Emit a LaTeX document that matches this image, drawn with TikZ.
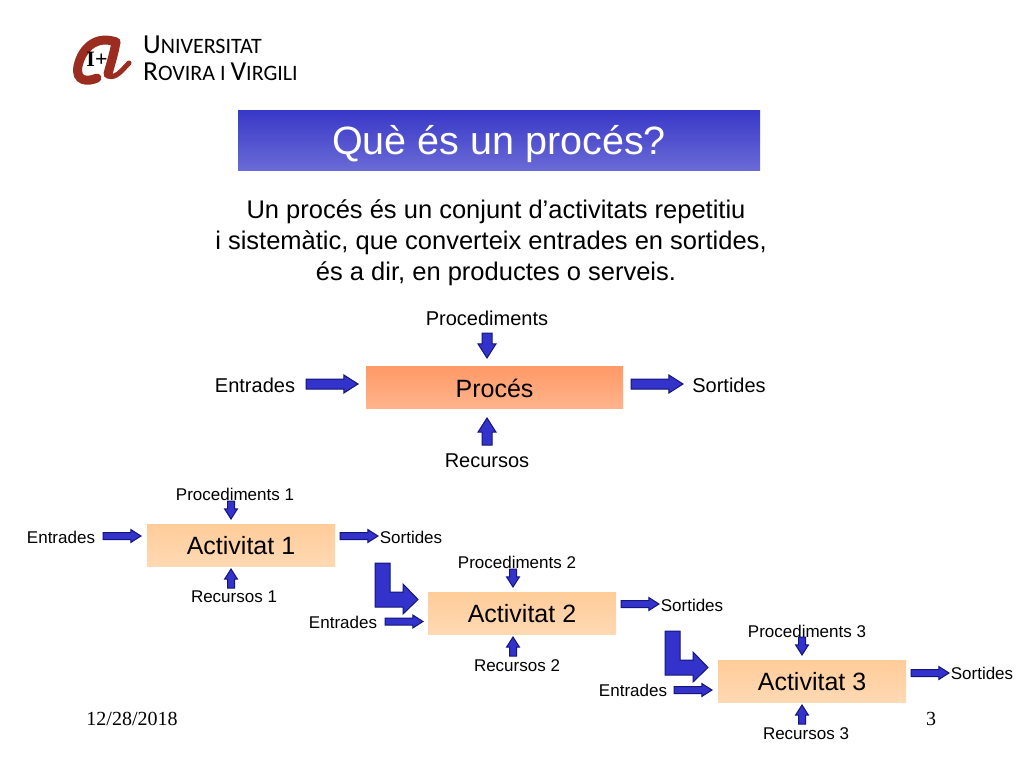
\documentclass[tikz,border=0pt]{standalone}
\usepackage{xcolor}
\usepackage{fontspec}
\usetikzlibrary{shapes.arrows}
\setmainfont{Liberation Sans}
\newfontfamily\datefont{Liberation Serif}
\newfontfamily\logofont{Carlito}
\definecolor{arrowfill}{HTML}{3333CC}
\definecolor{arrowline}{HTML}{14147A}
\definecolor{logored}{HTML}{9A2C20}
\definecolor{actbox_top}{HTML}{FFCC99}
\definecolor{actbox_bot}{HTML}{FFD9B3}
\definecolor{proc_top}{HTML}{FF9966}
\definecolor{proc_bot}{HTML}{FFB38C}
\definecolor{title_top}{HTML}{3838C8}
\definecolor{title_bot}{HTML}{6A6AD6}
\tikzset{
	blockarr/.style={single arrow, draw=arrowline, fill=arrowfill, line width=1pt, single arrow tip angle=65, single arrow head indent=0pt, outer sep=0pt, anchor=tail},
	bigarr/.style={blockarr, inner sep=4.5pt, single arrow head extend=4pt},
	smallarr/.style={blockarr, inner sep=3pt, single arrow head extend=3pt},
	actbox/.style={rectangle, minimum width=188pt, minimum height=42pt, inner sep=0pt, top color=actbox_top, bottom color=actbox_bot, text height=19pt, text depth=0pt, font=\fontsize{25}{25}\selectfont},
	biglabel/.style={font=\fontsize{20}{20}\selectfont},
	smalllabel/.style={font=\fontsize{17}{17}\selectfont},
}
\begin{document}
\begin{tikzpicture}[x=1pt, y=-1pt]
	\useasboundingbox (0,0) rectangle (1024,768);
	% Logo
	\draw[logored, line width=9pt, line cap=round] (116,42) .. controls (96,35) and (82,48) .. (78,66) .. controls (75,82) and (88,82) .. (97,78);
	\draw[logored, line width=9pt, line cap=round] (116,42) .. controls (114,54) and (110,66) .. (108,74);
	\draw[logored, line width=5pt, line cap=round] (108,76) .. controls (116,79) and (122,70) .. (129,63);
	\node[font=\datefont\bfseries\fontsize{22}{22}\selectfont] (logo_mark) at (97,59) {I+};
	\node[anchor=west, inner sep=0pt, font=\logofont\fontsize{27.5}{27.5}\selectfont] (logo_1) at (143,45) {U\fontsize{22}{22}\selectfont NIVERSITAT};
	\node[anchor=west, inner sep=0pt, font=\logofont\fontsize{27.5}{27.5}\selectfont] (logo_2) at (143,72) {R\fontsize{22}{22}\selectfont OVIRA I \fontsize{27.5}{27.5}\selectfont V\fontsize{22}{22}\selectfont IRGILI};
	% Title and text
	\node[rectangle, minimum width=522pt, minimum height=60pt, inner sep=0pt, top color=title_top, bottom color=title_bot, text=white, text height=28pt, text depth=0pt, font=\fontsize{39.5}{39.5}\selectfont] (title) at (499,140) {Què és un procés?};
	\node[align=center, inner sep=0pt, font=\fontsize{25.5}{31}\selectfont] (intro) at (496,243) {Un procés és un conjunt d’activitats repetitiu\\ i sistemàtic, que converteix entrades en sortides,\rule{10pt}{0pt}\\ és a dir, en productes o serveis.};
	% Main process
	\node[rectangle, minimum width=257pt, minimum height=42pt, inner sep=0pt, top color=proc_top, bottom color=proc_bot, text height=20pt, text depth=0pt, font=\fontsize{25}{25}\selectfont] (proc) at (494.5,387) {Procés};
	\node[biglabel] (proc_p) at (487,318) {Procediments};
	\node[biglabel] (proc_e) at (255,385) {Entrades};
	\node[biglabel] (proc_s) at (729,385) {Sortides};
	\node[biglabel] (proc_r) at (487,461) {Recursos};
	\node[bigarr, minimum height=52pt] (arr_e) at (306,384) {};
	\node[bigarr, minimum height=52pt] (arr_s) at (631,384) {};
	\node[bigarr, minimum height=25pt, rotate=-90] (arr_p) at (487,333) {};
	\node[bigarr, minimum height=27pt, rotate=90] (arr_r) at (487,445) {};
	% Activities
	\node[actbox] (act_1) at (241,545) {Activitat 1};
	\node[actbox] (act_2) at (522,613) {Activitat 2};
	\node[actbox] (act_3) at (812,681) {Activitat 3};
	\node[smalllabel] (p_1) at (235,494) {Procediments 1};
	\node[smalllabel] (e_1) at (61,537) {Entrades};
	\node[smalllabel] (s_1) at (411,537) {Sortides};
	\node[smalllabel] (r_1) at (234,597) {Recursos 1};
	\node[smalllabel] (p_2) at (517,562) {Procediments 2};
	\node[smalllabel] (e_2) at (343,622) {Entrades};
	\node[smalllabel] (s_2) at (692,605) {Sortides};
	\node[smalllabel] (r_2) at (517,666) {Recursos 2};
	\node[smalllabel] (p_3) at (807,631) {Procediments 3};
	\node[smalllabel] (e_3) at (633,690) {Entrades};
	\node[smalllabel] (s_3) at (982,673) {Sortides};
	\node[smalllabel] (r_3) at (806,734) {Recursos 3};
	% Small arrows
	\node[smallarr, minimum height=38pt] (arr_e1) at (103,536) {};
	\node[smallarr, minimum height=38pt] (arr_s1) at (340,536) {};
	\node[smallarr, minimum height=18pt, rotate=-90] (arr_p1) at (231,501) {};
	\node[smallarr, minimum height=19pt, rotate=90] (arr_r1) at (231,588) {};
	\node[smallarr, minimum height=38pt] (arr_e2) at (385,621.5) {};
	\node[smallarr, minimum height=38pt] (arr_s2) at (621,604) {};
	\node[smallarr, minimum height=18pt, rotate=-90] (arr_p2) at (513,569) {};
	\node[smallarr, minimum height=19pt, rotate=90] (arr_r2) at (513,656) {};
	\node[smallarr, minimum height=38pt] (arr_e3) at (674,690) {};
	\node[smallarr, minimum height=38pt] (arr_s3) at (911,673) {};
	\node[smallarr, minimum height=18pt, rotate=-90] (arr_p3) at (802,637) {};
	\node[smallarr, minimum height=19pt, rotate=90] (arr_r3) at (802,724) {};
	% Bent arrows
	\foreach \dx/\dy in {0/0, 290/68}
		\draw[draw=arrowline, fill=arrowfill, line width=1pt, shift={(\dx,\dy)}] (375,563) -- (390,563) -- (390,592) -- (403,592) -- (403,584) -- (418,599.5) -- (403,614) -- (403,607) -- (375,607) -- cycle;
	% Footer
	\node[font=\datefont\fontsize{20}{20}\selectfont] (date) at (132,719) {12/28/2018};
	\node[font=\datefont\fontsize{20}{20}\selectfont] (page) at (931,719) {3};
\end{tikzpicture}
\end{document}
